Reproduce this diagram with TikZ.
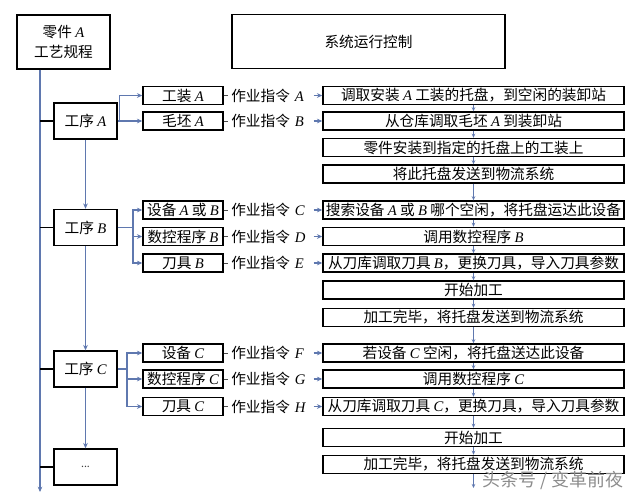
\documentclass[tikz,border=0pt]{standalone}
\usepackage{fontspec}
\setmainfont{Noto Sans CJK SC}
\newfontfamily\latin{Liberation Serif}
\newcommand{\vr}[1]{{\latin\itshape #1}}
\newcommand{\fs}{\fontsize{11}{14.5}\selectfont}
\usetikzlibrary{arrows.meta}
\definecolor{linkblue}{RGB}{95,120,175}
\tikzset{
  box/.style={draw, line width=1.1pt, inner sep=0pt, font=\fs, align=center},
  rbox/.style={box, minimum width=225.75pt, minimum height=13.5pt},
  sbox/.style={box, minimum width=60pt, minimum height=13.5pt},
  pbox/.style={box, minimum width=47.25pt, minimum height=27pt},
  lbl/.style={text width=59.25pt, inner xsep=2.25pt, inner ysep=0pt, align=left, anchor=west, font=\fs},
  conn/.style={linkblue, line width=0.9pt},
  arr/.style={conn, -{Stealth[length=4pt,width=3.5pt]}},
  sarr/.style={conn, line width=0.6pt, -{Stealth[length=3pt,width=2.6pt]}},
  tie/.style={line width=1.1pt, black},
  tickline/.style={line width=0.6pt, black!70},
}
\begin{document}
\begin{tikzpicture}[x=0.75pt,y=-0.75pt]
\useasboundingbox (0,0) rectangle (640,497);
% top boxes
\node[box, minimum width=69.75pt, minimum height=40.5pt] (part) at (63.5,42) {零件 \vr{A}\\工艺规程};
\node[box, minimum width=204.75pt, minimum height=40.5pt] (ctrl) at (368.5,41.5) {系统运行控制};
% process boxes
\node[pbox] (pA) at (85.5,121) {工序 \vr{A}};
\node[pbox] (pB) at (85.5,227.5) {工序 \vr{B}};
\node[pbox] (pC) at (85.5,369) {工序 \vr{C}};
\node[pbox, font=\fontsize{8}{9}\selectfont, text=black!75] (pD) at (85.5,467) {...};
% main line
\coordinate (mainEnd) at (40,492);
\draw[arr] (mainEnd |- part.south) -- (mainEnd);
\foreach \p in {pA,pB,pC,pD} \draw[tie] (mainEnd |- \p.west) -- (\p.west);
\draw[arr] (pA) -- (pB);
\draw[arr] (pB) -- (pC);
\draw[arr] (pC) -- (pD);
% right boxes
\node[rbox] (r1) at (473.5,95.5) {调取安装 \vr{A} 工装的托盘，到空闲的装卸站};
\node[rbox] (r2) at (473.5,121) {从仓库调取毛坯 \vr{A} 到装卸站};
\node[rbox] (r3) at (473.5,147.5) {零件安装到指定的托盘上的工装上};
\node[rbox] (r4) at (473.5,174) {将此托盘发送到物流系统};
\node[rbox] (r5) at (473.5,210) {搜索设备 \vr{A} 或 \vr{B} 哪个空闲，将托盘运达此设备};
\node[rbox] (r6) at (473.5,236.5) {调用数控程序 \vr{B}};
\node[rbox] (r7) at (473.5,263) {从刀库调取刀具 \vr{B}，更换刀具，导入刀具参数};
\node[rbox] (r8) at (473.5,290) {开始加工};
\node[rbox] (r9) at (473.5,317.5) {加工完毕，将托盘发送到物流系统};
\node[rbox] (r10) at (473.5,353) {若设备 \vr{C} 空闲，将托盘送达此设备};
\node[rbox] (r11) at (473.5,379) {调用数控程序 \vr{C}};
\node[rbox] (r12) at (473.5,406.5) {从刀库调取刀具 \vr{C}，更换刀具，导入刀具参数};
\node[rbox] (r13) at (473.5,437.5) {开始加工};
\node[rbox] (r14) at (473.5,464.5) {加工完毕，将托盘发送到物流系统};
\coordinate (rEnd) at (473.5,488);
\foreach \a/\b in {r1/r2,r2/r3,r3/r4,r4/r5,r5/r6,r6/r7,r7/r8,r8/r9,r9/r10,r10/r11,r11/r12,r12/r13,r13/r14}
  \draw[sarr] (\a) -- (\b);
\draw[sarr] (r14) -- (rEnd);
% sub boxes and labels
\foreach \n/\t/\l/\r in {sA1/工装 \vr{A}/作业指令 \vr{A}/r1,
                         sA2/毛坯 \vr{A}/作业指令 \vr{B}/r2,
                         sB1/设备 \vr{A} 或 \vr{B}/作业指令 \vr{C}/r5,
                         sB2/数控程序 \vr{B}/作业指令 \vr{D}/r6,
                         sB3/刀具 \vr{B}/作业指令 \vr{E}/r7,
                         sC1/设备 \vr{C}/作业指令 \vr{F}/r10,
                         sC2/数控程序 \vr{C}/作业指令 \vr{G}/r11,
                         sC3/刀具 \vr{C}/作业指令 \vr{H}/r12}{
  \node[sbox] (\n) at (183,0 |- \r) {\t};
  \node[lbl] (\n l) at (228,0 |- \r) {\l};
  \draw[tickline] (\n.east) -- (\n l.west);
  \draw[arr] (\n l.east) -- (\r.west);
}
% branches
\coordinate (bA) at (119.5,121);
\draw[conn] (pA.east) -- (bA);
\draw[arr] (bA) |- (sA1.west);
\draw[arr] (bA) |- (sA2.west);
\coordinate (bB) at (133,227.5);
\draw[conn] (pB.east) -- (bB);
\draw[arr] (bB) |- (sB1.west);
\draw[arr] (bB) |- (sB2.west);
\draw[arr] (bB) |- (sB3.west);
\coordinate (bC) at (127,369);
\draw[conn] (pC.east) -- (bC);
\draw[arr] (bC) |- (sC1.west);
\draw[arr] (bC) |- (sC2.west);
\draw[arr] (bC) |- (sC3.west);
% watermark
\node[font=\fontsize{13.5}{15}\selectfont, text=black!45] (wm) at (553,480) {头条号 / 变革前夜};
\end{tikzpicture}
\end{document}
